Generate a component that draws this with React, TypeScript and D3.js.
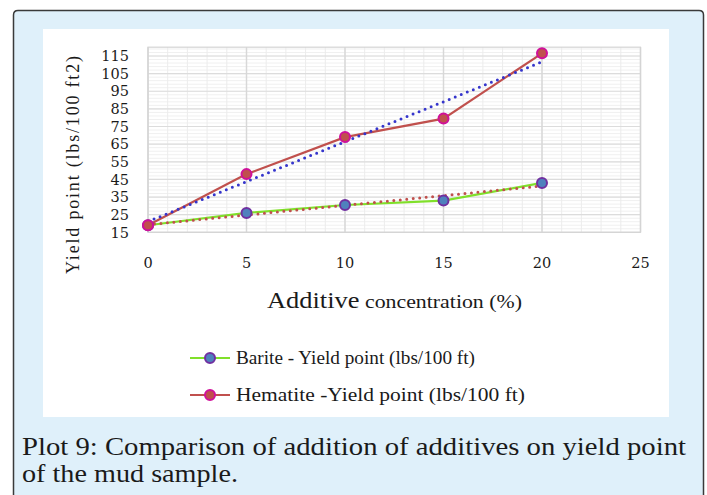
import React from "react";
import * as d3 from "d3";

const concentrations = [0, 5, 10, 15, 20];
const bariteYield = [19, 26, 30.5, 33, 43];
const hematiteYield = [19, 48, 69, 79.5, 116.5];
const xTicks = [0, 5, 10, 15, 20, 25];
const yTicks = [15, 25, 35, 45, 55, 65, 75, 85, 95, 105, 115];
const seriesNames = ["Barite - Yield point (lbs/100  ft)", "Hematite -Yield point (lbs/100  ft)"];
const captionLines = ["Plot 9: Comparison of addition of additives on yield point", "of the mud sample."];

function linFit(xs: number[], ys: number[]) {
  const mx = d3.mean(xs)!;
  const my = d3.mean(ys)!;
  let num = 0, den = 0;
  xs.forEach((x, i) => { num += (x - mx) * (ys[i] - my); den += (x - mx) * (x - mx); });
  const slope = num / den;
  return (x: number) => my + slope * (x - mx);
}

export default function App() {
  const W = 707, H = 495;
  const left = 148, right = 640.5, bottom = 232.3;
  const x = d3.scaleLinear().domain([0, 25]).range([left, right]);
  const y = d3.scaleLinear().domain([15, 115]).range([bottom, 56]);
  const yTop = y(120);

  const minorX = d3.range(0, 26, 1);
  const minorY = d3.range(15, 121, 2);

  const line = d3.line<[number, number]>().x(d => x(d[0])).y(d => y(d[1]));
  const bar = concentrations.map((c, i) => [c, bariteYield[i]] as [number, number]);
  const hem = concentrations.map((c, i) => [c, hematiteYield[i]] as [number, number]);
  const fb = linFit(concentrations, bariteYield);
  const fh = linFit(concentrations, hematiteYield);
  const trendB = line([[0, fb(0)], [20, fb(20)]]);
  const trendH = line([[0, fh(0)], [20, fh(20)]]);

  const serif = "'DejaVu Serif', serif";
  const lserif = "'Liberation Serif', serif";

  return (
    <svg width={W} height={H} style={{ position: "absolute", left: 0, top: 0 }}>
      <rect x={0} y={0} width={W} height={H} fill="#ffffff" />
      <path d={`M13.5,${H + 5} L13.5,15 Q13.5,10.5 18,10.5 L699,10.5 Q703.5,10.5 703.5,15 L703.5,${H + 5}`} fill="#dff0fa" stroke="#3a3a3a" strokeWidth={1.5} />
      <rect x={43} y={29} width={626} height={388} fill="#ffffff" />

      {minorY.map(v => (
        <line key={"my" + v} x1={left} x2={right} y1={y(v)} y2={y(v)} stroke="#f0f0f0" strokeWidth={1} />
      ))}
      {minorX.map(v => (
        <line key={"mx" + v} x1={x(v)} x2={x(v)} y1={yTop} y2={bottom} stroke="#ececec" strokeWidth={1} />
      ))}
      {yTicks.map(v => (
        <line key={"gy" + v} x1={left} x2={right} y1={y(v)} y2={y(v)} stroke="#dcdcdc" strokeWidth={1.2} />
      ))}
      {xTicks.map(v => (
        <line key={"gx" + v} x1={x(v)} x2={x(v)} y1={yTop} y2={bottom} stroke="#d8d8d8" strokeWidth={1.5} />
      ))}
      <rect x={left} y={yTop} width={right - left} height={bottom - yTop} fill="none" stroke="#d4d4d4" strokeWidth={1.2} />

      <path d={line(bar)!} fill="none" stroke="#80e02a" strokeWidth={2.2} />
      <path d={line(hem)!} fill="none" stroke="#c0504d" strokeWidth={2.2} />
      <path d={trendB!} fill="none" stroke="#c0504d" strokeWidth={3} strokeDasharray="0 6.5" strokeLinecap="round" />
      <path d={trendH!} fill="none" stroke="#3535cc" strokeWidth={3} strokeDasharray="0 6.5" strokeLinecap="round" />
      {bar.map((d, i) => (
        <circle key={"bm" + i} cx={x(d[0])} cy={y(d[1])} r={5} fill="#4f81bd" stroke="#7030a0" strokeWidth={2} />
      ))}
      {hem.map((d, i) => (
        <circle key={"hm" + i} cx={x(d[0])} cy={y(d[1])} r={5} fill="#c0504d" stroke="#d0109a" strokeWidth={2} />
      ))}

      {yTicks.map(v => (
        <text key={"yt" + v} x={129} y={y(v)} dy="0.36em" textAnchor="end" fontFamily={serif} fontSize={14.5} fill="#1a1a1a">{v}</text>
      ))}
      {xTicks.map(v => (
        <text key={"xt" + v} x={x(v)} y={268} textAnchor="middle" fontFamily={serif} fontSize={14.5} fill="#1a1a1a">{v}</text>
      ))}

      <text transform="translate(79,165) rotate(-90)" textAnchor="middle" fontFamily={lserif} fontSize={18} fill="#1a1a1a" textLength={218} lengthAdjust="spacing">Yield point (lbs/100  ft2)</text>

      <text x={267} y={308} fontFamily={lserif} fill="#1a1a1a" textLength={255} lengthAdjust="spacingAndGlyphs">
        <tspan fontSize={23}>Additive</tspan>
        <tspan fontSize={19}> concentration (%)</tspan>
      </text>

      {seriesNames.map((name, i) => {
        const ly = 358 + i * 37;
        const col = i === 0 ? "#80e02a" : "#c0504d";
        const fill = i === 0 ? "#4f81bd" : "#c0504d";
        const stroke = i === 0 ? "#7030a0" : "#d0109a";
        return (
          <g key={name}>
            <line x1={190} x2={230} y1={ly} y2={ly} stroke={col} strokeWidth={2.2} />
            <circle cx={210} cy={ly} r={5} fill={fill} stroke={stroke} strokeWidth={2} />
            <text x={236} y={ly} dy="0.33em" fontFamily={lserif} fontSize={18.5} fill="#1a1a1a"
              textLength={i === 0 ? 239 : 289} lengthAdjust="spacingAndGlyphs">{name}</text>
          </g>
        );
      })}

      {captionLines.map((t, i) => (
        <text key={"c" + i} x={22} y={455 + i * 27} fontFamily={lserif} fontSize={26} fill="#1a1a1a"
          textLength={i === 0 ? 664 : 216} lengthAdjust="spacingAndGlyphs">{t}</text>
      ))}
    </svg>
  );
}
